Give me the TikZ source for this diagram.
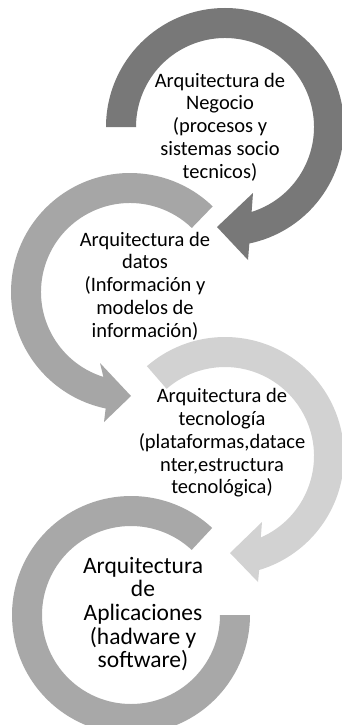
\documentclass[tikz,border=0pt]{standalone}
\usepackage{fontspec}
\setmainfont{Carlito}
\usetikzlibrary{calc}
\definecolor{arcdark}{HTML}{787878}
\definecolor{arcmid}{HTML}{A6A6A6}
\definecolor{arclight}{HTML}{D2D2D2}
\definecolor{arcfour}{HTML}{A8A8A8}
\tikzset{
  lbl/.style={align=center,inner sep=0pt,text=black,font=\fontsize{20.5}{22.7}\selectfont},
  lblbig/.style={align=center,inner sep=0pt,text=black,font=\fontsize{23.5}{23.6}\selectfont}
}
\begin{document}
\begin{tikzpicture}[x=1pt,y=-1pt]
\useasboundingbox (0,0) rectangle (342,725);
\fill[white] (0,0) rectangle (342,725);
\coordinate (c1) at (225,127);
\coordinate (c2) at (130,292);
\coordinate (c3) at (225,456);
\coordinate (c4) at (131,615);
% arrow 1 (dark), clockwise
\fill[arcdark] ($(c1)+(180:119)$) arc[start angle=180, end angle=438.2, radius=119]
  -- ($(c1)+(23,133)$) coordinate (b1o) -- ($(c1)+(-8,100)$) coordinate (t1) -- ($(c1)+(28,66)$) coordinate (b1i)
  -- ($(c1)+(432.6:89)$) arc[start angle=432.6, end angle=180, radius=89] -- cycle;
% arrow 2 (medium), counter-clockwise
\fill[arcmid] ($(c2)+(-46:119)$) arc[start angle=-46, end angle=-258.2, radius=119]
  -- ($(c2)+(-26,130)$) coordinate (b2o) -- ($(c2)+(1,104)$) coordinate (t2) -- ($(c2)+(-30,71)$) coordinate (b2i)
  -- ($(c2)+(-252.6:89)$) arc[start angle=-252.6, end angle=-46, radius=89] -- cycle;
% arrow 3 (light), clockwise
\fill[arclight] ($(c3)+(-131:119)$) arc[start angle=-131, end angle=73.3, radius=119]
  -- ($(c3)+(33,126)$) coordinate (b3o) -- ($(c3)+(5,97)$) coordinate (t3) -- ($(c3)+(37,66)$) coordinate (b3i)
  -- ($(c3)+(66.3:89)$) arc[start angle=66.3, end angle=-131, radius=89] -- cycle;
% arc 4 (medium), counter-clockwise, no head
\fill[arcfour] ($(c4)+(-47:119)$) arc[start angle=-47, end angle=-360, radius=119]
  -- ($(c4)+(0:89)$) arc[start angle=-360, end angle=-47, radius=89] -- cycle;
% labels
\node[lbl] (n1) at (220,127) {Arquitectura de\\Negocio\\(procesos y\\sistemas socio\\tecnicos)};
\node[lbl] (n2) at (145,286) {Arquitectura de\\datos\\(Información y\\modelos de\\información)};
\node[lbl] (n3) at (222,443) {Arquitectura de\\tecnología\\(plataformas,datace\\nter,estructura\\tecnológica)};
\node[lblbig] (n4) at (143,614) {Arquitectura\\de\\Aplicaciones\\(hadware y\\software)};
\end{tikzpicture}
\end{document}
